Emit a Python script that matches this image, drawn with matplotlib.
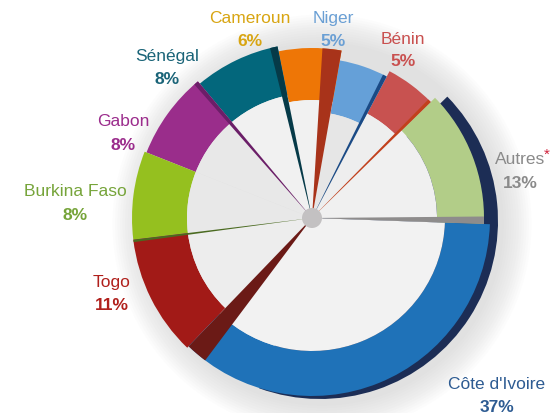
import matplotlib
matplotlib.use("Agg")
import matplotlib.pyplot as plt
from matplotlib.patches import Wedge, Circle
import numpy as np

# data (counter-clockwise from the right)
pays = ['Autres', 'Bénin', 'Niger', 'Cameroun', 'Sénégal', 'Gabon',
        'Burkina Faso', 'Togo', "Côte d'Ivoire"]
parts = [13, 5, 5, 6, 8, 8, 8, 11, 37]

# styles
couleurs = ['#b2cd88', '#c85250', '#65a0d8', '#ee7606', '#03677c', '#9a2d8b',
            '#95c01f', '#a21a17', '#1f72b8']
cote = ['#8e8c8c', '#c2401c', '#1a4a85', '#a8331a', '#063a48', '#6b1e68',
        None, '#4a6a20', '#6b1a16']
cote_w = [2.5, 1.2, 1.5, 6.5, 2.5, 1.5, 0, 0.8, 7]
txt_col = ['#8a8a8a', '#c9504f', '#6a9fd4', '#d8a512', '#1a6478', '#9b2c8c',
           '#76a43a', '#b0201c', '#2d5b92']
r_out = [172, 166, 160, 170, 175, 178, 180, 180, 178]
r_in = [125, 118, 106, 118, 125, 125, 125, 125, 133]
gris = ['#f0f0f0', '#eeeeee', '#e6e6e6', '#f1f1f1', '#f1f1f1', '#e8e8e8',
        '#e8e8e8', '#ededed', '#f2f2f2']
lab_xy = [(520, 160), (403, 39), (333, 18), (250, 18), (167, 57), (123, 122),
          (75, 192), (112, 283), (497, 385)]

cx, cy = 312, 414 - 219

fig = plt.figure(figsize=(5.52, 4.14), dpi=100)
ax = fig.add_axes([0, 0, 1, 1])

# soft shadow
for k in range(12):
    ax.add_patch(Circle((cx + 10, cy - 6), 182 + k * 2.5, color='#9a9a9a',
                        alpha=0.022, lw=0, zorder=0))

wedges, _ = ax.pie(parts, colors=couleurs, startangle=-2, counterclock=True,
                   center=(cx, cy), radius=172, frame=True,
                   wedgeprops=dict(width=47, linewidth=0))

# dark extrusion on the right
ax.add_patch(Wedge((cx + 8, cy - 3), 178, -110, wedges[0].theta2,
                   color='#1c2d55', lw=0, zorder=1))

for i, w in enumerate(wedges):
    w.set_radius(r_out[i])
    w.set_width(r_out[i] - r_in[i])
    w.set_zorder(2)
    ax.add_patch(Wedge((cx, cy), r_in[i], w.theta1, w.theta2, color=gris[i],
                       lw=0, zorder=2))
    if cote[i]:
        ax.add_patch(Wedge((cx, cy), r_out[i], w.theta1, w.theta1 + cote_w[i],
                           color=cote[i], lw=0, zorder=3))

ax.add_patch(Circle((cx, cy), 10, color='#c3c1c2', lw=0, zorder=4))

for i, p in enumerate(pays):
    x, y = lab_xy[i]
    ax.text(x, 414 - y, p, ha='center', va='center', fontsize=12.5,
            color=txt_col[i], family=['Liberation Sans', 'DejaVu Sans'], zorder=5)
    ax.text(x, 414 - y - 23, f'{parts[i]}%', ha='center', va='center',
            fontsize=12.5, fontweight='bold', color=txt_col[i],
            family=['Liberation Sans', 'DejaVu Sans'], zorder=5)
ax.text(547, 414 - 155, '*', ha='center', va='center', fontsize=11,
        color='#d0203a', family='Liberation Sans', zorder=5)

ax.set_xlim(0, 552)
ax.set_ylim(0, 414)
ax.set_aspect('equal')
ax.axis('off')
fig.savefig('out.png', dpi=100)
